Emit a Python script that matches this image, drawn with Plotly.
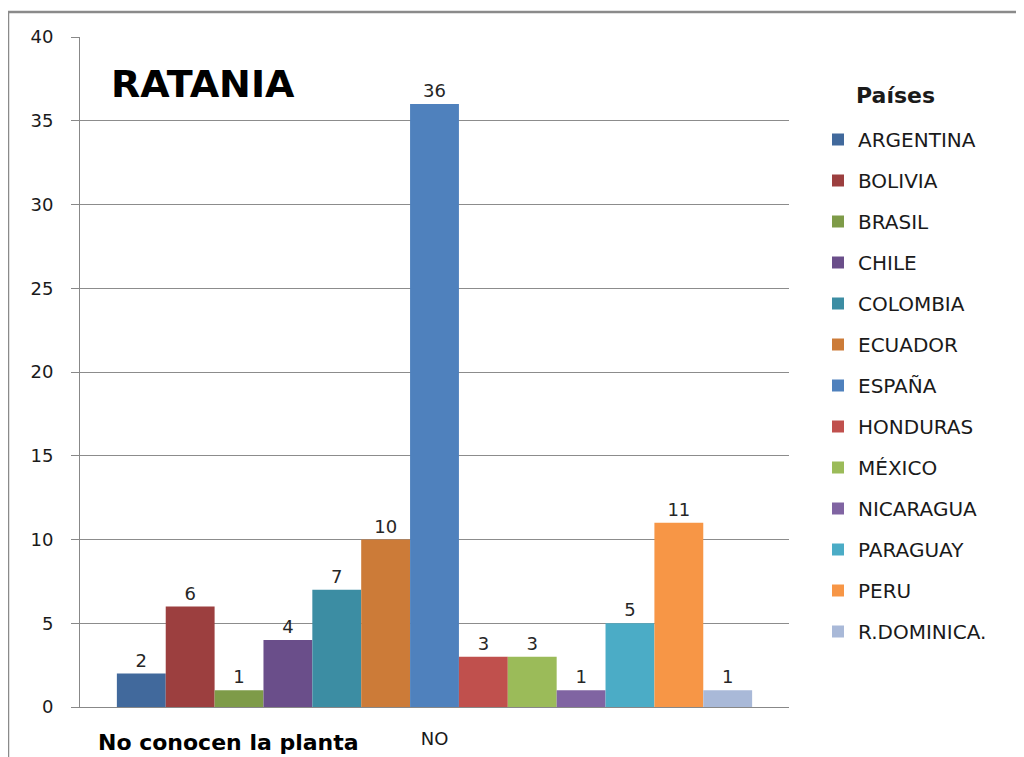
import plotly.graph_objects as go

categories = ["NO"]
countries = ["ARGENTINA", "BOLIVIA", "BRASIL", "CHILE", "COLOMBIA", "ECUADOR",
             "ESPAÑA", "HONDURAS", "MÉXICO", "NICARAGUA", "PARAGUAY", "PERU",
             "R.DOMINICA."]
values = [2, 6, 1, 4, 7, 10, 36, 3, 3, 1, 5, 11, 1]
colors = ["#41699C", "#9C3F3F", "#7E9B48", "#6A4E8A", "#3C8DA3", "#CC7B38",
          "#4F81BD", "#C0504D", "#9BBB59", "#8064A2", "#4BACC6", "#F79646",
          "#A9B9D8"]
y_ticks = [0, 5, 10, 15, 20, 25, 30, 35, 40]

# page body has an 8px margin, so the figure is drawn 8px in from the top-left
OFF = 8
W, H = 1024 - OFF, 757 - OFF
PL, PR, PT, PB = 80, 789, 37, 707          # plot area in screen pixels
L, T = PL - OFF, PT - OFF
R, B = W - (PR - OFF), H - (PB - OFF)
pw, ph = PR - PL, PB - PT

def px_x(p):
    return (p - PL) / pw

def px_y(p):
    return (PB - p) / ph

fig = go.Figure()
for name, v, c in zip(countries, values, colors):
    fig.add_trace(go.Bar(
        x=categories, y=[v], name=name, legendgroup=name,
        marker=dict(color=c, line=dict(width=0)),
        text=[str(v)], textposition="outside",
        textfont=dict(family="DejaVu Sans", size=18, color="#262626"),
        cliponaxis=False,
    ))

fig.update_layout(
    width=W, height=H,
    margin=dict(l=L, r=R, t=T, b=B, autoexpand=False),
    paper_bgcolor="white", plot_bgcolor="white",
    barmode="group", bargap=0.104, bargroupgap=0,
    showlegend=True,
    legend=dict(
        x=px_x(818), y=px_y(120), xanchor="left", yanchor="top",
        font=dict(family="DejaVu Sans", size=20, color="#1a1a1a"),
        tracegroupgap=12,
        itemwidth=30,
    ),
    xaxis=dict(
        automargin=False,
        showgrid=False, showline=True, linecolor="#888888", linewidth=1,
        ticks="", tickfont=dict(family="DejaVu Sans", size=18, color="#1a1a1a"),
        ticklabelstandoff=15,
    ),
    yaxis=dict(
        automargin=False,
        range=[0, 40], tickvals=y_ticks, showgrid=True, gridcolor="#8c8c8c", gridwidth=1,
        showline=True, linecolor="#888888", linewidth=1,
        ticks="outside", ticklen=8, tickcolor="#888888",
        tickfont=dict(family="DejaVu Sans", size=18, color="#1a1a1a"),
        ticklabelstandoff=14, zeroline=False,
    ),
    shapes=[dict(
        type="rect", xref="paper", yref="paper",
        x0=px_x(8), x1=px_x(1040), y0=px_y(780), y1=px_y(12),
        line=dict(color="#8a8a8a", width=2.5), fillcolor="rgba(0,0,0,0)", layer="below",
    )],
    annotations=[
        dict(text="<b>RATANIA</b>", xref="paper", yref="paper",
             x=px_x(109), y=px_y(84), xanchor="left", yanchor="middle", showarrow=False,
             font=dict(family="DejaVu Sans", size=38, color="#000000")),
        dict(text="<b>Países</b>", xref="paper", yref="paper",
             x=px_x(854), y=px_y(96), xanchor="left", yanchor="middle", showarrow=False,
             font=dict(family="DejaVu Sans", size=22, color="#1a1a1a")),
        dict(text="<b>No conocen la planta</b>", xref="paper", yref="paper",
             x=px_x(96), y=px_y(742), xanchor="left", yanchor="middle", showarrow=False,
             font=dict(family="DejaVu Sans", size=22, color="#000000")),
    ],
)

fig.write_html("out.html")
